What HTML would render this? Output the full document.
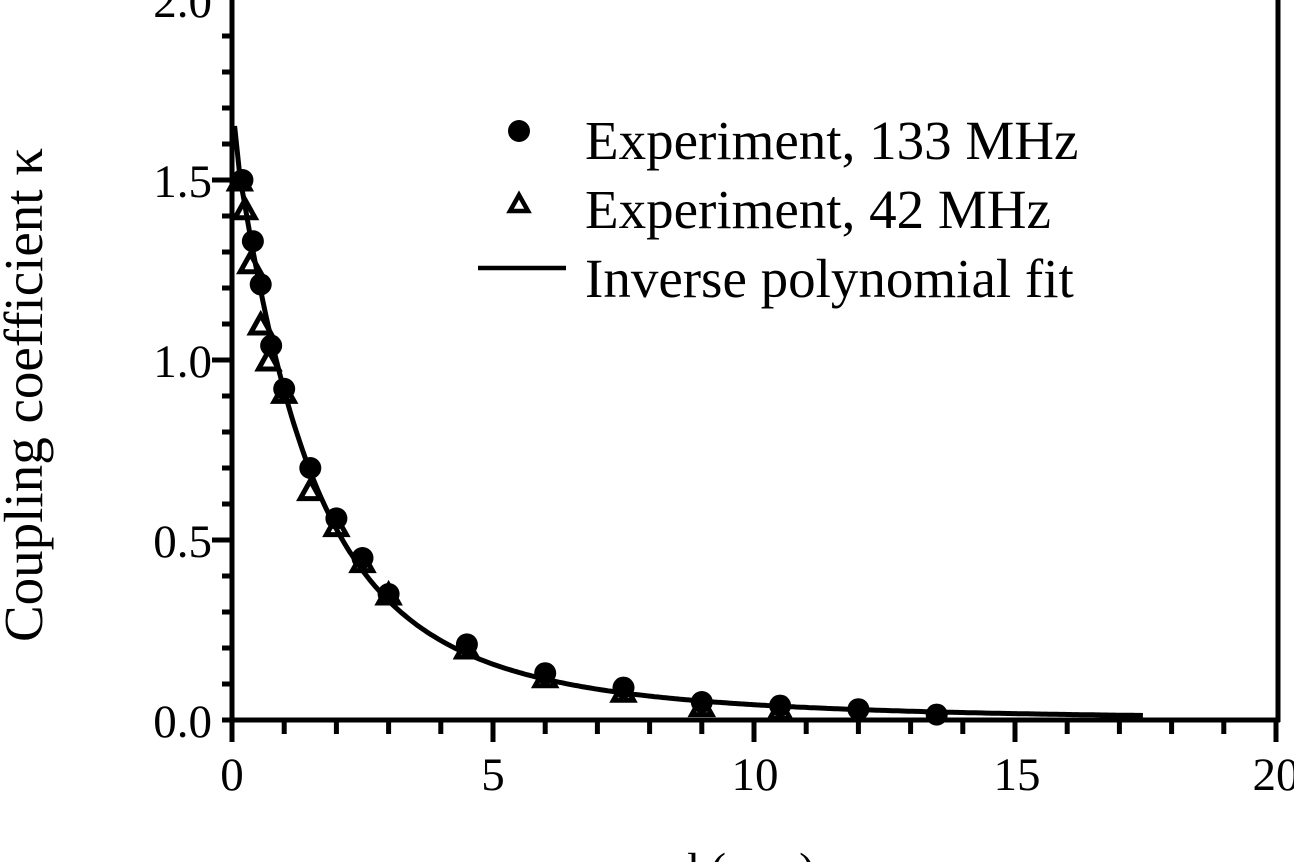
<!DOCTYPE html>
<html><head><meta charset="utf-8"><style>
html,body{margin:0;padding:0;background:#fff;}
svg{display:block;}
text{font-family:"Liberation Serif",serif;fill:#000;}
</style></head><body>
<svg id="s" width="1294" height="862" viewBox="0 0 1294 862" xmlns="http://www.w3.org/2000/svg">
<g id="ax" stroke="#000" stroke-width="5" fill="none">
<line x1="232" y1="0" x2="232" y2="722"/>
<line x1="222" y1="720" x2="1280" y2="720"/>
<line x1="1278" y1="0" x2="1278" y2="722"/>
</g>
<g font-size="47" text-anchor="end">
<text x="212" y="737">0.0</text>
<text x="212" y="557">0.5</text>
<text x="212" y="377">1.0</text>
<text x="212" y="197">1.5</text>
<text x="212" y="17">2.0</text>
</g>
<g font-size="47" text-anchor="middle">
<text x="232" y="790">0</text>
<text x="493" y="790">5</text>
<text x="755" y="790">10</text>
<text x="1017" y="790">15</text>
<text x="1276" y="790">20</text>
<text x="745" y="885">d (mm)</text>
</g>
<text font-size="55" text-anchor="middle" transform="translate(42,395) rotate(-90)">Coupling coefficient κ</text>
<g font-size="55">
<text x="585" y="159">Experiment, 133 MHz</text>
<text x="585" y="228">Experiment, 42 MHz</text>
<text x="585" y="297">Inverse polynomial fit</text>
</g>
<circle cx="519" cy="131" r="11" fill="#000"/>
<polygon points="510,211 528,211 519,195" fill="none" stroke="#000" stroke-width="4.5"/>
<line x1="478" y1="268" x2="566" y2="268" stroke="#000" stroke-width="4.5"/>
<g id="data"></g>
</svg>
<script>
var NS="http://www.w3.org/2000/svg",s=document.getElementById("s"),g=document.getElementById("data"),ax=document.getElementById("ax");
function X(d){return 232+d*52.2;}function Y(k){return 720-k*360;}
function el(t,a,p){var e=document.createElementNS(NS,t);for(var k in a)e.setAttribute(k,a[k]);(p||g).appendChild(e);return e;}
for(var i=1;i<20;i++){el("line",{x1:232,y1:722,x2:232,y2:722+(i%5==0?20:12),stroke:"#000","stroke-width":5,transform:"translate("+(i*52.2)+",0)"},ax);}
el("line",{x1:232,y1:720,x2:232,y2:742,stroke:"#000","stroke-width":5},ax);
el("line",{x1:1276,y1:720,x2:1276,y2:742,stroke:"#000","stroke-width":5},ax);
for(var j=1;j<20;j++){var y=720-j*36;el("line",{x1:(j%5==0?212:222),y1:y,x2:232,y2:y,stroke:"#000","stroke-width":5},ax);}
var pts=[X(0.05).toFixed(1)+","+Y(1.65).toFixed(1)];for(var d=0.15;d<=17.5;d+=0.05){var k=1/(0.606+0.3465*d+0.1345*d*d+0.006*d*d*d);pts.push(X(d).toFixed(1)+","+Y(k).toFixed(1));}
el("polyline",{points:pts.join(" "),fill:"none",stroke:"#000","stroke-width":5});
var tri=[[0.15,1.5],[0.25,1.42],[0.35,1.27],[0.55,1.10],[0.7,1.0],[1.0,0.91],[1.5,0.64],[2.0,0.54],[2.5,0.44],[3.0,0.35],[4.5,0.2],[6,0.12],[7.5,0.08],[9,0.04],[10.5,0.03]];
tri.forEach(function(p){var x=X(p[0]),y=Y(p[1]);el("polygon",{points:(x-10)+","+(y+9)+" "+(x+10)+","+(y+9)+" "+x+","+(y-9),fill:"none",stroke:"#000","stroke-width":5});});
var cir=[[0.2,1.5],[0.4,1.33],[0.55,1.21],[0.75,1.04],[1.0,0.92],[1.5,0.70],[2.0,0.56],[2.5,0.45],[3.0,0.35],[4.5,0.21],[6,0.13],[7.5,0.09],[9,0.05],[10.5,0.04],[12,0.03],[13.5,0.015]];
cir.forEach(function(p){el("circle",{cx:X(p[0]),cy:Y(p[1]),r:11,fill:"#000"});});
</script>
</body></html>
